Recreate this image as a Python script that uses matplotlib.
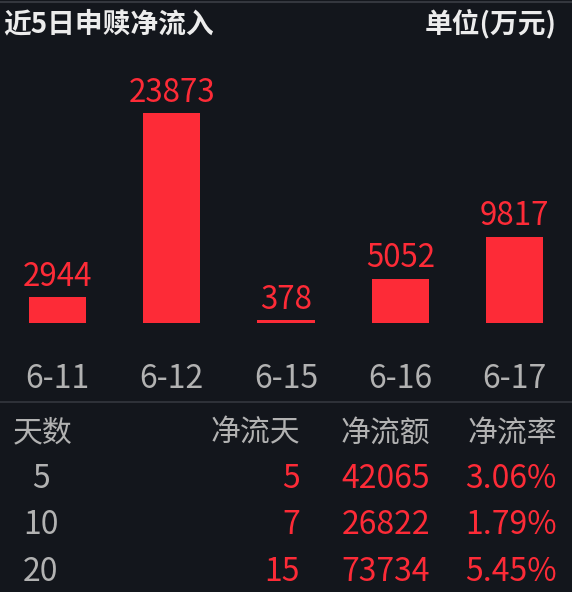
import matplotlib
matplotlib.use("Agg")
import matplotlib.pyplot as plt

plt.rcParams['font.family'] = ['Noto Sans CJK SC', 'DejaVu Sans']

# ---- data ----
dates = ["6-11", "6-12", "6-15", "6-16", "6-17"]
net_inflow = [2944, 23873, 378, 5052, 9817]
title = "近5日申赎净流入"
unit = "单位(万元)"
table_header = ["天数", "净流天", "净流额", "净流率"]
table_days = ["5", "10", "20"]
table_net_days = ["5", "7", "15"]
table_net_amount = ["42065", "26822", "73734"]
table_net_rate = ["3.06%", "1.79%", "5.45%"]

BG = "#13161c"
RED = "#fd2b37"
GRAY = "#b2b2b2"
WHITE = "#ececec"
LINE = "#34373e"

W, H = 572, 592
fig = plt.figure(figsize=(W / 100, H / 100), dpi=100, facecolor=BG)

def fy(py):
    return 1 - py / H

def fx(px):
    return px / W

# top line and separator
fig.add_artist(plt.Line2D([0, 1], [fy(2), fy(2)], color=LINE, lw=1.5))
fig.add_artist(plt.Line2D([0, 1], [fy(402), fy(402)], color=LINE, lw=1.2))

# title
fig.text(fx(3), fy(24), title, color=WHITE, fontsize=20, fontweight='bold', ha='left', va='center')
fig.text(fx(557), fy(24), unit, color=WHITE, fontsize=20, fontweight='bold', ha='right', va='center')

# bar axes
base_px, top_px = 323, 60
ax = fig.add_axes([0, fy(base_px), 1, (base_px - top_px) / H])
ax.set_facecolor(BG)
ax.patch.set_alpha(0)
xs = list(range(len(dates)))
ax.bar(xs, net_inflow, width=0.5, color=RED)
ax.set_xlim(-0.5, len(dates) - 0.5)
ax.set_ylim(0, max(net_inflow) * (base_px - top_px) / 210)
for x, v in zip(xs, net_inflow):
    ax.annotate(str(v), (x, v), xytext=(0, 3), textcoords='offset points',
                ha='center', va='bottom', color=RED, fontsize=22.5)
for s in ax.spines.values():
    s.set_visible(False)
ax.set_yticks([])
ax.set_xticks(xs)
ax.set_xticklabels(dates, color=GRAY, fontsize=23)
ax.tick_params(axis='x', length=0, pad=29)

# table
hfs, vfs = 21.5, 23
fig.text(fx(13), fy(433), table_header[0], color=GRAY, fontsize=hfs, ha='left', va='center')
fig.text(fx(300), fy(433), table_header[1], color=GRAY, fontsize=hfs, ha='right', va='center')
fig.text(fx(430), fy(433), table_header[2], color=GRAY, fontsize=hfs, ha='right', va='center')
fig.text(fx(557), fy(433), table_header[3], color=GRAY, fontsize=hfs, ha='right', va='center')
rows_y = [479, 525, 572]
for i, ry in enumerate(rows_y):
    fig.text(fx(41), fy(ry), table_days[i], color=GRAY, fontsize=vfs, ha='center', va='center')
    fig.text(fx(300), fy(ry), table_net_days[i], color=RED, fontsize=vfs, ha='right', va='center')
    fig.text(fx(430), fy(ry), table_net_amount[i], color=RED, fontsize=vfs, ha='right', va='center')
    fig.text(fx(557), fy(ry), table_net_rate[i], color=RED, fontsize=vfs, ha='right', va='center')

fig.savefig("out.png", dpi=100, facecolor=BG)
